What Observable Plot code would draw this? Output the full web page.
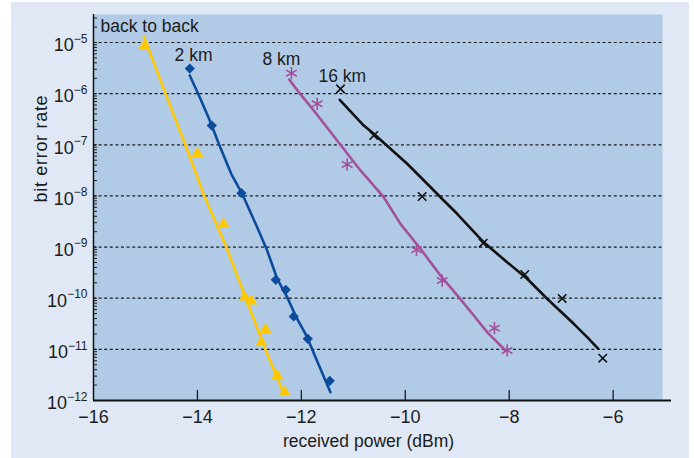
<!DOCTYPE html>
<html><head><meta charset="utf-8">
<script src="https://cdn.jsdelivr.net/npm/d3@7"></script>
<script src="https://cdn.jsdelivr.net/npm/@observablehq/plot@0.6"></script>
<style>
body{margin:0;background:#fff;}
#wrap{position:relative;width:694px;height:458px;}
#bg{position:absolute;left:11px;top:2px;width:678px;height:456px;background:#dfe8f4;}
#chart{position:absolute;left:0;top:0;}
</style></head><body>
<div id="wrap"><div id="bg"></div><div id="chart"></div></div>
<script>
// series
const seriesNames = ["back to back", "2 km", "8 km", "16 km"];
const seriesColors = ["#ffc800", "#0b4c9c", "#a3519c", "#111111"];
const seriesSymbols = ["triangle", "diamond2", "asterisk", "times"];

// measured points: received power (dBm) and bit error rate
const b2bPower = [-15.03, -14.00, -13.50, -13.09, -12.96, -12.69, -12.77, -12.465, -12.32];
const b2bBer   = [8.36e-6, 6.76e-8, 2.85e-9, 1.05e-10, 8.83e-11, 2.44e-11, 1.38e-11, 3.08e-12, 1.45e-12];
const km2Power = [-14.147, -13.724, -13.152, -12.492, -12.300, -12.146, -11.876, -11.453];
const km2Ber   = [3.10e-6, 2.38e-7, 1.13e-8, 2.29e-10, 1.46e-10, 4.40e-11, 1.61e-11, 2.43e-12];
const km8Power = [-12.190, -11.696, -11.118, -9.785, -9.290, -8.284, -8.040];
const km8Ber   = [2.51e-6, 6.34e-7, 4.12e-8, 8.85e-10, 2.22e-10, 2.59e-11, 9.51e-12];
const km16Power = [-11.247, -10.607, -9.675, -8.501, -7.701, -6.981, -6.200];
const km16Ber   = [1.24e-6, 1.52e-7, 9.75e-9, 1.19e-9, 2.91e-10, 9.89e-11, 6.71e-12];

// fitted curves
const b2bLinePower = [-15.032, -14.615, -14.230, -13.864, -13.441, -13.066, -12.690, -12.338];
const b2bLineBer   = [1.33e-5, 1.01e-6, 9.8e-8, 9.75e-9, 9.8e-10, 9.75e-11, 9.93e-12, 1.35e-12];
const km2LinePower = [-14.147, -13.955, -13.762, -13.589, -13.350, -13.139, -12.850, -12.658, -12.465, -12.273, -12.113, -11.888, -11.728, -11.440];
const km2LineBer   = [2.26e-6, 8.53e-7, 2.99e-7, 1.05e-7, 2.71e-8, 1.10e-8, 2.45e-9, 8.57e-10, 2.40e-10, 1.05e-10, 4.59e-11, 1.73e-11, 7.03e-12, 1.45e-12];
const km8LinePower = [-12.234, -12.050, -11.761, -11.311, -10.862, -10.414, -10.093, -9.708, -9.323, -8.971, -8.682, -8.425, -8.072];
const km8LineBer   = [1.89e-6, 1.07e-6, 4.69e-7, 1.21e-7, 3.15e-8, 9.44e-9, 2.85e-9, 9.25e-10, 2.78e-10, 1.05e-10, 4.59e-11, 2.17e-11, 9.51e-12];
const km16LinePower = [-11.261, -10.799, -10.607, -9.964, -9.579, -9.260, -9.002, -8.490, -8.040, -7.655, -7.270, -6.758, -6.500, -6.289];
const km16LineBer   = [7.59e-7, 2.38e-7, 1.64e-7, 4.26e-8, 1.73e-8, 8.15e-9, 4.48e-9, 1.24e-9, 5.06e-10, 2.40e-10, 9.75e-11, 3.16e-11, 1.73e-11, 1.03e-11];

// series label anchors (data coordinates)
const labelPower = [-15.865, -14.44, -12.75, -11.67];
const labelBer   = [1.59e-5, 4.26e-6, 3.56e-6, 1.67e-6];

// axes
const xTicks = [-16, -14, -12, -10, -8, -6];
const xInnerTicks = [-14, -12, -10, -8, -6];
const yDecades = [1e-12, 1e-11, 1e-10, 1e-9, 1e-8, 1e-7, 1e-6, 1e-5];
const yGrid = [1e-11, 1e-10, 1e-9, 1e-8, 1e-7, 1e-6, 1e-5];
const xTitle = "received power (dBm)";
const yTitle = "bit error rate";

const pointSets = [[b2bPower, b2bBer], [km2Power, km2Ber], [km8Power, km8Ber], [km16Power, km16Ber]];
const lineSets = [[b2bLinePower, b2bLineBer], [km2LinePower, km2LineBer], [km8LinePower, km8LineBer], [km16LinePower, km16LineBer]];

const lines = lineSets.flatMap(([xs, ys], s) => xs.map((x, i) => ({series: seriesNames[s], x, y: ys[i]})));
const points = pointSets.map(([xs, ys], s) => xs.map((x, i) => ({series: seriesNames[s], x, y: ys[i]})));
const labels = seriesNames.map((name, i) => ({name, x: labelPower[i], y: labelBer[i]}));

const FONT = "'Liberation Sans', Arial, Helvetica, sans-serif";
const symbolR = {triangle: 4.4, diamond2: 4.6, asterisk: 5.8, times: 3.9};
const filled = {triangle: true, diamond2: true, asterisk: false, times: false};

const dotMarks = points.map((pts, s) => {
  const sym = seriesSymbols[s];
  return Plot.dot(pts, {
    x: "x", y: "y", symbol: () => sym, r: symbolR[sym],
    fill: filled[sym] ? seriesColors[s] : "none",
    stroke: filled[sym] ? "none" : seriesColors[s],
    strokeWidth: 1.6
  });
});

const chart = Plot.plot({
  width: 694, height: 458,
  marginLeft: 93, marginRight: 32, marginTop: 14, marginBottom: 58,
  x: {domain: [-16, -5.05]},
  y: {type: "log", domain: [1e-12, 3.53e-5]},
  symbol: {type: "identity"},
  color: {domain: seriesNames, range: seriesColors},
  style: {background: "transparent", fontFamily: FONT, fontSize: "17px", color: "#1c1c1c", overflow: "visible"},
  marks: [
    Plot.frame({fill: "#b1cbe6", stroke: "none"}),
    Plot.ruleY(yGrid, {stroke: "#1c1c1c", strokeWidth: 1.2, strokeDasharray: "3,2.6"}),
    Plot.line(lines, {x: "x", y: "y", z: "series", stroke: "series", strokeWidth: 2.6, strokeLinejoin: "round"}),
    ...dotMarks,
    Plot.text(labels, {x: "x", y: "y", text: "name", textAnchor: "start", lineAnchor: "bottom", fontSize: 17.5, fill: "#1c1c1c"}),
    // axes
    Plot.axisY({ticks: 80, tickSize: -4, tickFormat: () => "", label: null, strokeWidth: 1}),
    Plot.axisY({ticks: yDecades, tickSize: 0, tickPadding: 6, dy: 3, label: null, fontSize: 18,
      tickFormat: d => "10^" + Math.round(Math.log10(d))}),
    Plot.axisX({ticks: xInnerTicks, tickSize: -10, tickFormat: () => "", label: null, strokeWidth: 1.3}),
    Plot.axisX({ticks: xTicks, tickSize: 0, tickPadding: 10, label: null, fontSize: 18}),
    Plot.ruleY([1e-12], {stroke: "#111", strokeWidth: 1.8, insetRight: -9}),
    Plot.ruleX([-16], {stroke: "#111", strokeWidth: 1.5}),
    Plot.text([xTitle], {frameAnchor: "bottom", lineAnchor: "bottom", dy: 46.7, dx: -9.5, fontSize: 17.5, fill: "#1c1c1c"}),
    Plot.text([yTitle], {frameAnchor: "left", rotate: -90, lineAnchor: "middle", dx: -52, dy: -5, fontSize: 18, fill: "#1c1c1c"})
  ]
});

// render superscript exponents on y tick labels as real text
chart.querySelectorAll('g[aria-label="y-axis tick label"] text').forEach(t => {
  const s = t.textContent;
  if (!s.startsWith("10^")) return;
  const exp = s.slice(3).replace("-", "\u2212");
  t.textContent = "10";
  const ts = document.createElementNS("http://www.w3.org/2000/svg", "tspan");
  ts.setAttribute("dy", "-8.5");
  ts.setAttribute("font-size", "12");
  ts.textContent = exp;
  t.appendChild(ts);
});
// letter spacing for y title (reference is spread wider)
chart.querySelectorAll("text").forEach(t => { if (t.textContent === yTitle) t.setAttribute("letter-spacing", "0.7"); });

document.getElementById("chart").appendChild(chart);
</script>
</body></html>
